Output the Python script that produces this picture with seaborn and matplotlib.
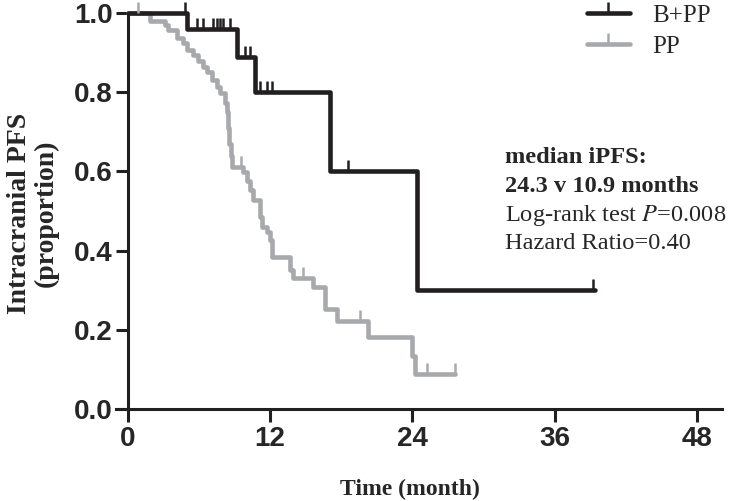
import numpy as np
import pandas as pd
import matplotlib
matplotlib.use('Agg')
import matplotlib.pyplot as plt
from matplotlib.lines import Line2D
import seaborn as sns

# step curves: time of each drop and the proportion after it
BPP_TIME = [0, 4.98, 9.2, 10.72, 17.05, 24.39, 39.4]
BPP_SURV = [1.0, 0.96, 0.889, 0.80, 0.60, 0.30, 0.30]
BPP_CENS_T = [4.81, 5.82, 6.33, 7.17, 7.51, 7.76, 8.02, 8.61, 9.87, 10.3,
              11.14, 11.73, 12.15, 18.57, 39.24]
BPP_CENS_S = [1.0, 0.96, 0.96, 0.96, 0.96, 0.96, 0.96, 0.96, 0.889, 0.889,
              0.80, 0.80, 0.80, 0.60, 0.30]

PP_TIME = [0, 1.86, 3.12, 3.38, 4.13, 4.64, 4.98, 5.49, 5.91, 6.33, 6.67,
           7.09, 7.51, 7.76, 8.19, 8.35, 8.44, 8.52, 8.69, 8.78, 9.7, 10.04,
           10.3, 10.55, 11.14, 11.31, 11.73, 11.98, 12.15, 13.67, 13.92,
           15.61, 16.62, 17.64, 20.25, 23.97, 24.22, 27.6]
PP_SURV = [1.0, 0.98, 0.97, 0.957, 0.937, 0.924, 0.907, 0.894, 0.88, 0.864,
           0.851, 0.831, 0.814, 0.798, 0.773, 0.75, 0.71, 0.67, 0.64, 0.612,
           0.598, 0.575, 0.554, 0.529, 0.484, 0.461, 0.448, 0.428, 0.385,
           0.35, 0.332, 0.307, 0.252, 0.222, 0.181, 0.134, 0.088, 0.088]
PP_CENS_T = [0.84, 9.54, 14.77, 19.58, 25.2, 27.6]
PP_CENS_S = [1.0, 0.612, 0.332, 0.222, 0.088, 0.088]

GROUPS = ['B+PP', 'PP']
COLORS = {'B+PP': '#231f20', 'PP': '#a7a9ac'}

X_TICKS = [0, 12, 24, 36, 48]
Y_TICKS = [0.0, 0.2, 0.4, 0.6, 0.8, 1.0]

SERIF = ['Liberation Serif', 'DejaVu Serif']
TICKFONT = ['Liberation Sans Narrow', 'Liberation Sans', 'DejaVu Sans']


def main():
    sns.set_style('white')
    plt.rcParams['mathtext.fontset'] = 'stix'

    curves = pd.concat([
        pd.DataFrame({'time': BPP_TIME, 'surv': BPP_SURV, 'group': 'B+PP'}),
        pd.DataFrame({'time': PP_TIME, 'surv': PP_SURV, 'group': 'PP'}),
    ])
    cens = pd.concat([
        pd.DataFrame({'time': BPP_CENS_T, 'surv': BPP_CENS_S, 'group': 'B+PP'}),
        pd.DataFrame({'time': PP_CENS_T, 'surv': PP_CENS_S, 'group': 'PP'}),
    ])

    fig = plt.figure(figsize=(7.35, 5.01), dpi=100)
    ax = fig.add_axes([0.1578, 0.1836, 0.8245, 0.806])

    # gray first so black sits on top
    for g in ['PP', 'B+PP']:
        sns.lineplot(data=curves[curves.group == g], x='time', y='surv',
                     drawstyle='steps-post', estimator=None, sort=True,
                     color=COLORS[g], linewidth=3.3, ax=ax, clip_on=False)
        sns.scatterplot(data=cens[cens.group == g], x='time', y='surv',
                        marker=2, s=64, linewidth=1.8, color=COLORS[g],
                        ax=ax, clip_on=False, zorder=3)

    # spine position first: it resets the tick objects
    for side in ['top', 'right']:
        ax.spines[side].set_visible(False)
    ax.spines['left'].set_position(('data', 0))
    ax.spines['left'].set_bounds(0, 1.0)
    for side in ['left', 'bottom']:
        ax.spines[side].set_linewidth(2.2)
        ax.spines[side].set_color('#231f20')

    ax.set_xlim(-1.0, 50.1)
    ax.set_ylim(0, 1.02)
    ax.set_xticks(X_TICKS)
    ax.set_yticks(Y_TICKS)
    ax.set_xticklabels([str(t) for t in X_TICKS], family=TICKFONT,
                       fontweight='bold', fontsize=20)
    ax.set_yticklabels([f'{t:.1f}' for t in Y_TICKS], family=TICKFONT,
                       fontweight='bold', fontsize=20)
    ax.tick_params(axis='both', direction='out', length=9, width=2.2,
                   color='#231f20', bottom=True, left=True)
    ax.tick_params(axis='x', pad=3)
    ax.tick_params(axis='y', pad=2)

    ax.set_xlabel('Time (month)', family=SERIF, fontweight='bold', fontsize=17)
    ax.set_ylabel('Intracranial PFS\n(proportion)', family=SERIF,
                  fontweight='bold', fontsize=20, linespacing=1.05)
    ax.xaxis.set_label_coords(0.485, -0.173)
    ax.yaxis.set_label_coords(-0.095, 0.485)

    handles = [Line2D([], [], color=COLORS[g], linewidth=3.3, marker=2,
                      markersize=8, markeredgewidth=1.8) for g in GROUPS]
    ax.legend(handles, GROUPS, loc='upper left', frameon=False,
              bbox_to_anchor=(587 / 735, 497 / 501),
              bbox_transform=fig.transFigure, borderpad=0, borderaxespad=0,
              handlelength=1.7, handletextpad=0.9, labelspacing=0.35,
              prop={'family': SERIF, 'size': 18})

    tx = 31.8
    ax.text(tx, 0.636, 'median iPFS:', family=SERIF, fontweight='bold',
            fontsize=17.6, va='center')
    ax.text(tx, 0.561, '24.3 v 10.9 months', family=SERIF, fontweight='bold',
            fontsize=17.6, va='center')
    ax.text(tx, 0.490, 'Log-rank test $P$=0.008', family=SERIF,
            fontsize=17.6, va='center')
    ax.text(tx, 0.419, 'Hazard Ratio=0.40', family=SERIF,
            fontsize=17.6, va='center')

    plt.savefig('out.png', dpi=100)


if __name__ == '__main__':
    main()
